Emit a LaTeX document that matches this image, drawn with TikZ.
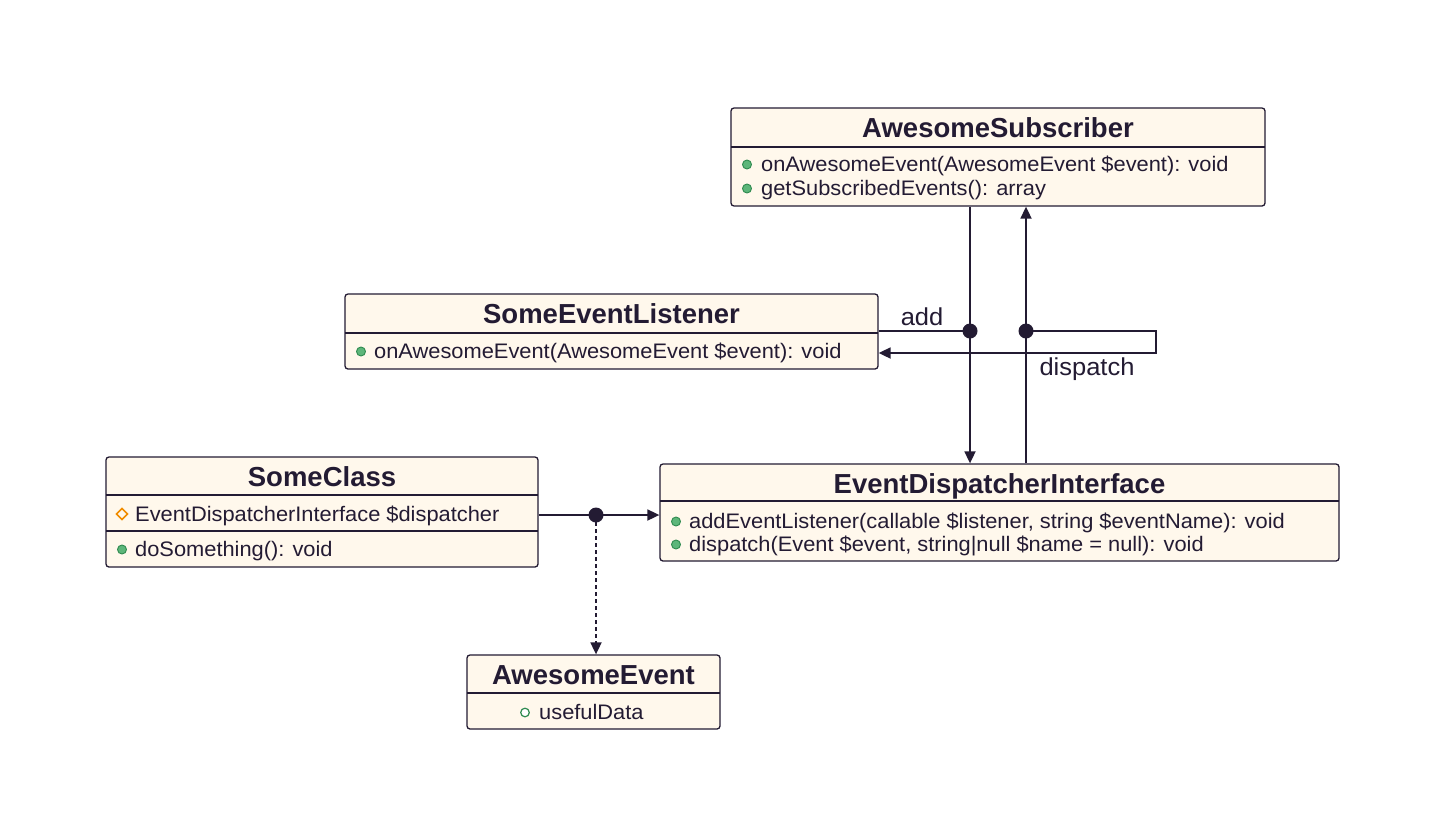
\documentclass[tikz,border=0pt]{standalone}
\usepackage{fontspec}
\setmainfont{Liberation Sans}
\newfontfamily\rowf[FakeStretch=1.04]{Liberation Sans}
\usetikzlibrary{arrows.meta}
\definecolor{ink}{HTML}{231B33}
\definecolor{cream}{HTML}{FFF8EC}
\definecolor{pgreen}{HTML}{5DB67A}
\definecolor{dgreen}{HTML}{2E8A4F}
\definecolor{orng}{HTML}{F08C00}
\tikzset{
  umlbox/.style={draw=ink, fill=cream, line width=1.3pt, rounded corners=3pt, inner sep=0pt},
  sepline/.style={draw=ink, line width=1.8pt},
  ttl/.style={anchor=base, inner sep=0pt, text=ink, font=\fontsize{27.5}{30}\selectfont\bfseries},
  row/.style={anchor=base west, inner sep=0pt, text=ink, font=\rowf\fontsize{21}{24}\selectfont},
  pubdot/.style={draw=dgreen, fill=pgreen, line width=0.9pt},
  flddot/.style={draw=dgreen, fill=white, line width=1.2pt},
  conn/.style={draw=ink, line width=1.8pt},
  arr/.style={-{Triangle[length=12pt,width=11pt]}},
  lbl/.style={text=ink, inner sep=0pt, font=\rowf\fontsize{24.5}{28}\selectfont}
}
\begin{document}
\begin{tikzpicture}[x=1pt, y=-1pt]
\useasboundingbox[fill=white] (0,0) rectangle (1448,836);

% AwesomeSubscriber
\node[umlbox, minimum width=534pt, minimum height=98pt] (sub) at (998,157) {};
\draw[sepline] (731,147) -- (1265,147);
\node[ttl] (subt) at (998,137) {AwesomeSubscriber};
\draw[pubdot] (747,164.5) circle (4.5);
\node[row] (subr1) at (761,171.5) {onAwesomeEvent(AwesomeEvent \$event): void};
\draw[pubdot] (747,188.5) circle (4.5);
\node[row] (subr2) at (761,195.5) {getSubscribedEvents(): array};

% SomeEventListener
\node[umlbox, minimum width=533pt, minimum height=75pt] (lis) at (611.5,331.5) {};
\draw[sepline] (345,333) -- (878,333);
\node[ttl] (list) at (611.5,323) {SomeEventListener};
\draw[pubdot] (361,351.5) circle (4.5);
\node[row] (lisr1) at (374,358.5) {onAwesomeEvent(AwesomeEvent \$event): void};

% SomeClass
\node[umlbox, minimum width=432pt, minimum height=110pt] (sc) at (322,512) {};
\draw[sepline] (106,495) -- (538,495);
\draw[sepline] (106,531) -- (538,531);
\node[ttl] (sct) at (322,486) {SomeClass};
\draw[orng, line width=1.5pt] (116.5,514) -- (122,508.5) -- (127.5,514) -- (122,519.5) -- cycle;
\node[row] (scr1) at (135,521.5) {EventDispatcherInterface \$dispatcher};
\draw[pubdot] (122,549.5) circle (4.5);
\node[row] (scr2) at (135,556.5) {doSomething(): void};

% EventDispatcherInterface
\node[umlbox, minimum width=679pt, minimum height=97pt] (edi) at (999.5,512.5) {};
\draw[sepline] (660,501) -- (1339,501);
\node[ttl] (edit) at (999.5,493) {EventDispatcherInterface};
\draw[pubdot] (676,521.5) circle (4.5);
\node[row] (edir1) at (689,528.5) {addEventListener(callable \$listener, string \$eventName): void};
\draw[pubdot] (676,544.5) circle (4.5);
\node[row] (edir2) at (689,551.5) {dispatch(Event \$event, string|null \$name = null): void};

% AwesomeEvent
\node[umlbox, minimum width=253pt, minimum height=74pt] (ev) at (593.5,692) {};
\draw[sepline] (467,693) -- (720,693);
\node[ttl] (evt) at (593.5,684) {AwesomeEvent};
\draw[flddot] (525,712.5) circle (4.3);
\node[row] (evr1) at (539,719.5) {usefulData};

% junctions
\coordinate (ja) at (970,331);
\coordinate (jd) at (1026,331);
\coordinate (dc1) at (1156,331);
\coordinate (dc2) at (1156,353);
\coordinate (jc) at (596,515);

% add
\draw[conn] (lis.east |- ja) -- (ja);
\draw[conn, arr] (sub.south -| ja) -- (edi.north -| ja);
\node[lbl] (addl) at (922,317) {add};
% dispatch
\draw[conn, arr] (edi.north -| jd) -- (sub.south -| jd);
\draw[conn, arr] (jd) -- (dc1) -- (dc2) -- (lis.east |- dc2);
\node[lbl] (displ) at (1087,369.5) {dispatch};
% SomeClass -> EDI
\draw[conn] (sc.east |- jc) -- (jc);
\draw[conn, arr] (jc) -- (edi.west |- jc);
\draw[conn, arr, dash pattern=on 4pt off 3pt] (jc) -- (ev.north -| jc);

\fill[ink] (ja) circle (7.5);
\fill[ink] (jd) circle (7.5);
\fill[ink] (jc) circle (7.5);
\end{tikzpicture}
\end{document}
